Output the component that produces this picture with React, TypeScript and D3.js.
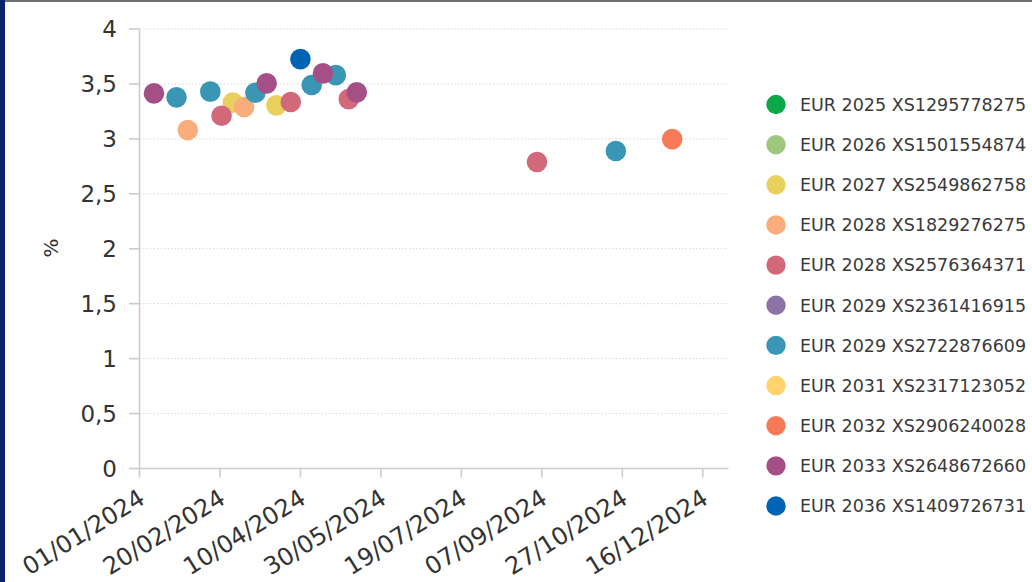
import React from "react";
import * as d3 from "d3";

const seriesNames = [
  "EUR 2025 XS1295778275",
  "EUR 2026 XS1501554874",
  "EUR 2027 XS2549862758",
  "EUR 2028 XS1829276275",
  "EUR 2028 XS2576364371",
  "EUR 2029 XS2361416915",
  "EUR 2029 XS2722876609",
  "EUR 2031 XS2317123052",
  "EUR 2032 XS2906240028",
  "EUR 2033 XS2648672660",
  "EUR 2036 XS1409726731",
];
const seriesColors = [
  "#0ba84a", "#9cc77c", "#e9cf5d", "#f9ad7a", "#d2697b", "#8c72a6",
  "#3a96b5", "#fed36c", "#f67a58", "#a44f86", "#0064b4",
];
// [date, yield %] per series
const seriesPoints: [string, number][][] = [
  [],
  [],
  [["2024-02-28", 3.33], ["2024-03-26", 3.305]],
  [["2024-01-31", 3.08], ["2024-03-06", 3.29]],
  [["2024-02-21", 3.21], ["2024-04-04", 3.335], ["2024-05-10", 3.362], ["2024-09-04", 2.79]],
  [],
  [["2024-01-24", 3.378], ["2024-02-14", 3.43], ["2024-03-13", 3.42], ["2024-04-17", 3.49], ["2024-05-02", 3.58], ["2024-10-23", 2.889]],
  [],
  [["2024-11-27", 2.998]],
  [["2024-01-10", 3.414], ["2024-03-20", 3.505], ["2024-04-24", 3.596], ["2024-05-15", 3.423]],
  [["2024-04-10", 3.726]],
];
const xTickLabels = [
  "01/01/2024", "20/02/2024", "10/04/2024", "30/05/2024",
  "19/07/2024", "07/09/2024", "27/10/2024", "16/12/2024",
];
const yTicks = [0, 0.5, 1, 1.5, 2, 2.5, 3, 3.5, 4];
const xDomain = ["2024-01-01", "2025-01-01"];
const yAxisTitle = "%";

const W = 1032, H = 582;
const parseISO = d3.utcParse("%Y-%m-%d");
const parseLabel = d3.utcParse("%d/%m/%Y");

export default function App() {
  const x = d3.scaleUtc()
    .domain([parseISO(xDomain[0])!, parseISO(xDomain[1])!])
    .range([139.5, 728.5]);
  const y = d3.scaleLinear().domain([0, 4]).range([468.5, 29]);
  const fmt = (v: number) => String(v).replace(".", ",");
  const font = "'DejaVu Sans', Verdana, sans-serif";
  const legendX = 776, legendY0 = 104.5, legendStep = 40.15;

  return (
    <svg width={W} height={H} style={{ position: "absolute", left: 0, top: 0, background: "#fff" }} fontFamily={font}>
      <rect x={0} y={0} width={W} height={H} fill="#fff" />
      {/* grid */}
      {yTicks.filter(t => t > 0).map(t => (
        <line key={"g" + t} x1={139.5} x2={728.5} y1={y(t)} y2={y(t)}
          stroke="#d6d6d6" strokeWidth={1} strokeDasharray="1.5,2" />
      ))}
      {/* y axis */}
      <line x1={139.5} x2={139.5} y1={y(4)} y2={y(0)} stroke="#ccc" strokeWidth={1.6} />
      {yTicks.map(t => (
        <g key={"y" + t}>
          <line x1={129} x2={139.5} y1={y(t)} y2={y(t)} stroke="#ccc" strokeWidth={1.6} />
          <text x={117} y={y(t)} dy="0.36em" textAnchor="end" fontSize={23} fill="#333">{fmt(t)}</text>
        </g>
      ))}
      <text transform={`translate(58,${248}) rotate(-90)`} textAnchor="middle" fontSize={20} fill="#333">{yAxisTitle}</text>
      {/* x axis */}
      <line x1={139.5} x2={728.5} y1={y(0)} y2={y(0)} stroke="#ccc" strokeWidth={1.6} />
      {xTickLabels.map(l => {
        const px = x(parseLabel(l)!);
        return (
          <g key={l}>
            <line x1={px} x2={px} y1={y(0)} y2={y(0) + 9} stroke="#ccc" strokeWidth={1.6} />
            <text transform={`translate(${px + 7},${y(0) + 34}) rotate(-32)`} textAnchor="end" fontSize={24} fill="#333">{l}</text>
          </g>
        );
      })}
      {/* points */}
      {seriesPoints.map((pts, i) => (
        <g key={"s" + i} fill={seriesColors[i]}>
          {pts.map(([d, v], j) => (
            <circle key={j} cx={x(parseISO(d)!)} cy={y(v)} r={10.3} />
          ))}
        </g>
      ))}
      {/* legend */}
      {seriesNames.map((n, i) => (
        <g key={n} transform={`translate(${legendX},${legendY0 + i * legendStep})`}>
          <circle cx={0} cy={0} r={9.7} fill={seriesColors[i]} />
          <text x={24} y={0} dy="0.36em" fontSize={17.5} fill="#3a3a3a">{n}</text>
        </g>
      ))}
      {/* frame */}
      <rect x={0} y={0} width={W} height={2} fill="#6e6e6e" />
      <rect x={0} y={0} width={5} height={H} fill="#0a2470" />
    </svg>
  );
}
